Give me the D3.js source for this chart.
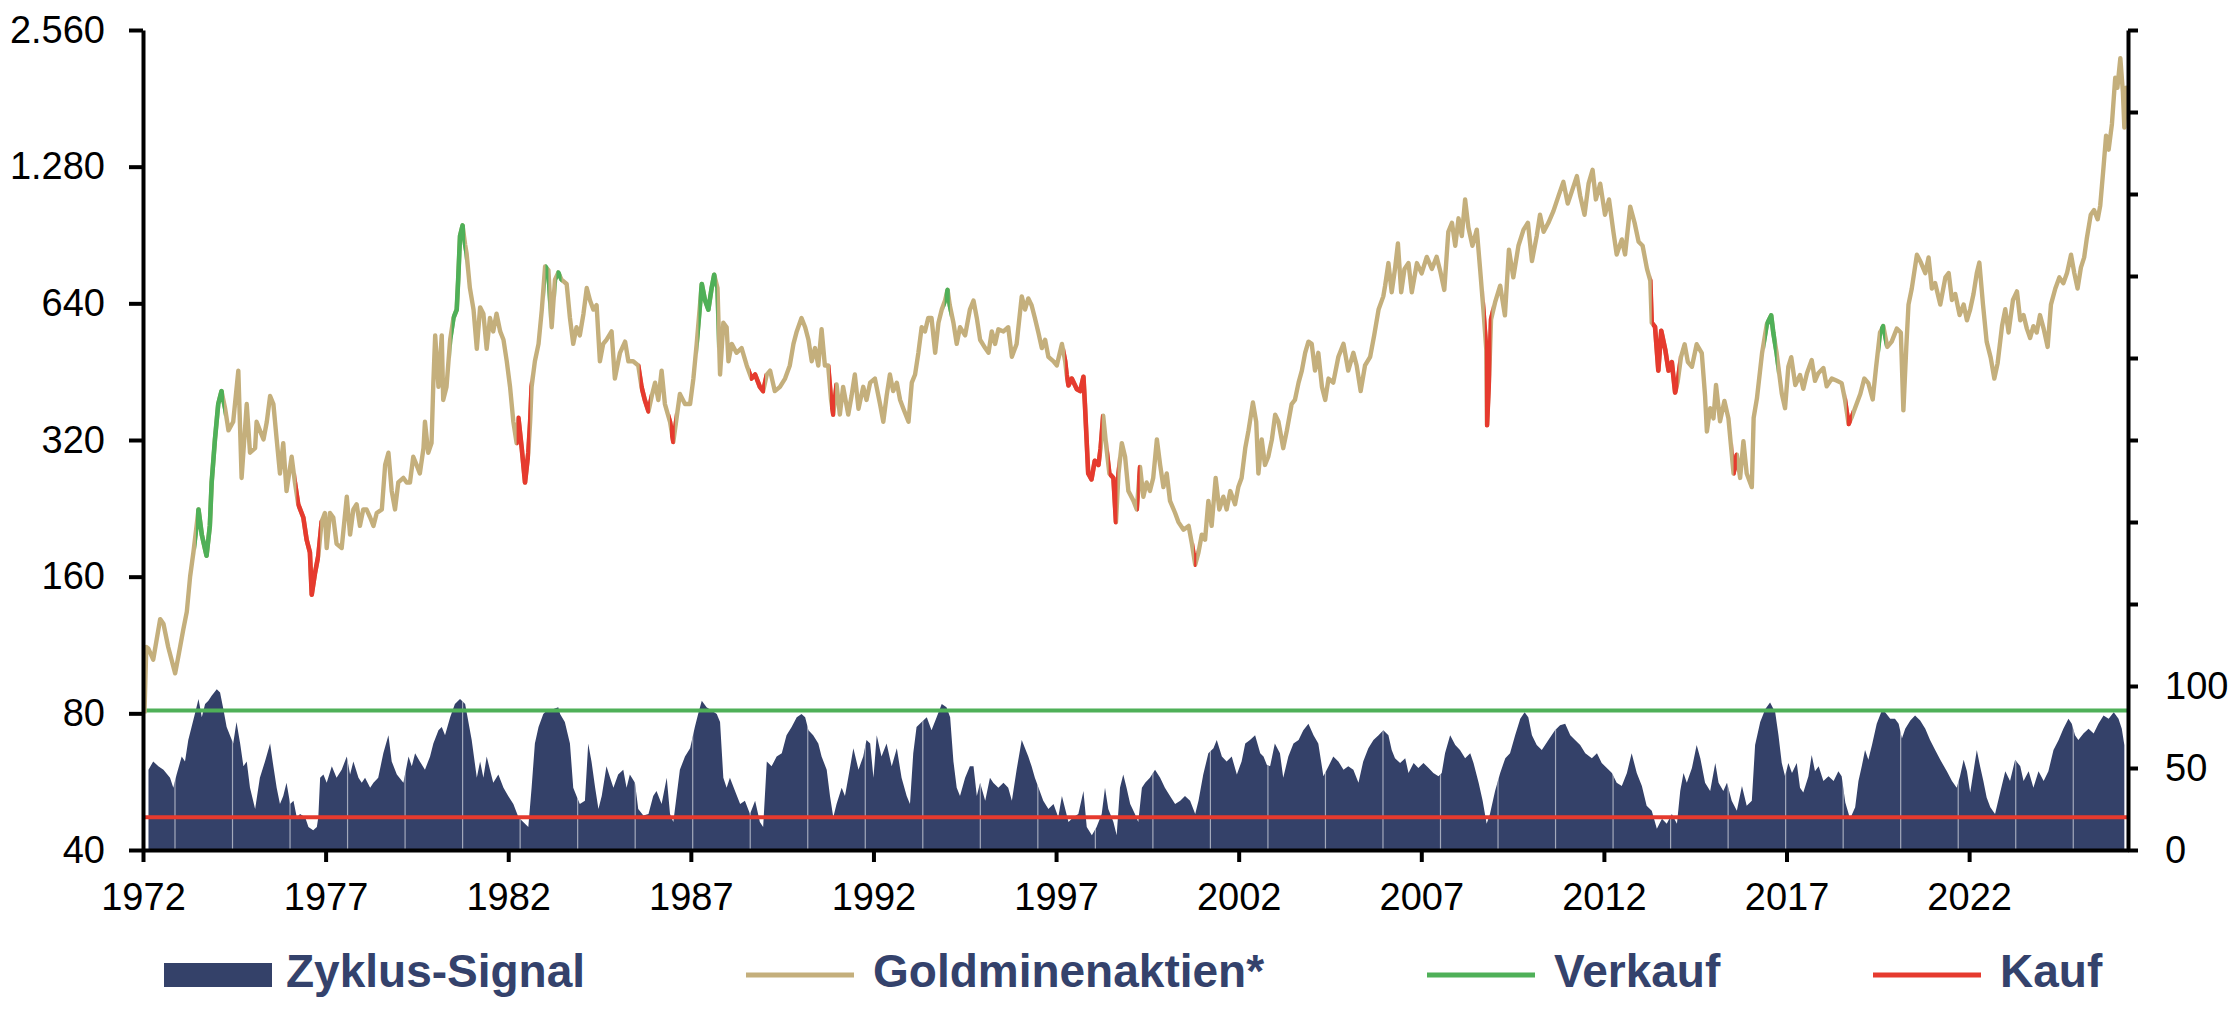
<!DOCTYPE html>
<html lang="de">
<head>
<meta charset="utf-8">
<script src="https://cdn.jsdelivr.net/npm/d3@7"></script>
<style>
  html, body { margin: 0; padding: 0; background: #fff; }
  svg { display: block; font-family: "Liberation Sans", Arial, Helvetica, sans-serif; }
  .axis path, .axis line { stroke: #000; stroke-width: 4; }
  .axis text { font-size: 38px; fill: #000; font-family: "Liberation Sans", Arial, sans-serif; }
  .legend text { font-size: 46px; font-weight: bold; fill: #34426c; }
</style>
</head>
<body>
<svg id="chart" width="2238" height="1018"></svg>
<script>
// Goldminenaktien* (log scale, left axis): [decimal year, index]
const goldminen = [
  [1972.04,80],[1972.09,112],[1972.15,111],[1972.28,105],[1972.47,129],[1972.56,126],[1972.69,112],[1972.88,98],[1972.97,107],
  [1973.10,122],[1973.20,134],[1973.29,160],[1973.38,181],[1973.52,225],[1973.61,198],[1973.74,178],[1973.83,207],[1973.88,258],[1973.97,321],
  [1974.06,384],[1974.15,410],[1974.25,375],[1974.34,336],[1974.47,351],[1974.61,455],[1974.70,264],[1974.84,384],[1974.93,300],
  [1975.07,307],[1975.11,351],[1975.20,336],[1975.30,321],[1975.39,351],[1975.48,400],[1975.57,384],[1975.66,321],[1975.75,270],[1975.84,315],[1975.93,247],
  [1976.07,294],[1976.16,258],[1976.25,231],[1976.39,216],[1976.48,193],[1976.57,181],[1976.62,146],[1976.71,163],[1976.80,178],[1976.89,211],[1976.98,221],
  [1977.03,185],[1977.12,221],[1977.21,216],[1977.30,189],[1977.44,185],[1977.58,240],[1977.67,198],[1977.76,225],[1977.85,231],[1977.94,207],
  [1978.03,225],[1978.12,225],[1978.22,216],[1978.31,207],[1978.40,221],[1978.54,225],[1978.63,282],[1978.72,300],[1978.81,247],[1978.90,225],[1978.99,258],
  [1979.13,264],[1979.22,258],[1979.31,258],[1979.40,294],[1979.49,282],[1979.58,270],[1979.68,307],[1979.72,351],[1979.81,300],[1979.90,315],[1979.95,428],
  [1980.00,544],[1980.09,419],[1980.18,544],[1980.22,392],[1980.31,419],[1980.41,532],[1980.50,594],[1980.59,620],[1980.63,722],[1980.68,900],[1980.75,950],[1980.82,862],[1980.86,825],[1980.95,692],
  [1981.05,620],[1981.14,508],[1981.23,627],[1981.32,607],[1981.41,508],[1981.50,594],[1981.59,555],[1981.68,607],[1981.78,555],[1981.87,532],[1981.96,477],
  [1982.05,419],[1982.14,351],[1982.23,315],[1982.28,358],[1982.37,307],[1982.46,258],[1982.55,300],[1982.60,351],[1982.64,419],[1982.73,477],[1982.83,521],[1982.92,620],
  [1983.01,772],[1983.10,757],[1983.19,567],[1983.28,722],[1983.37,748],[1983.46,722],[1983.60,706],[1983.69,594],[1983.78,521],[1983.87,567],[1983.96,544],
  [1984.06,607],[1984.15,692],[1984.24,649],[1984.33,620],[1984.42,634],[1984.51,477],[1984.60,521],[1984.69,532],[1984.83,555],[1984.92,437],
  [1985.06,498],[1985.20,527],[1985.29,477],[1985.42,477],[1985.56,467],[1985.65,419],[1985.74,392],[1985.84,370],[1985.93,400],
  [1986.02,428],[1986.11,392],[1986.20,455],[1986.29,384],[1986.43,351],[1986.52,317],[1986.61,358],[1986.70,404],[1986.84,384],[1986.98,384],
  [1987.07,437],[1987.16,521],[1987.25,634],[1987.30,706],[1987.39,649],[1987.48,620],[1987.57,692],[1987.64,740],[1987.73,692],[1987.80,446],[1987.89,580],[1987.98,567],
  [1988.03,477],[1988.12,521],[1988.25,498],[1988.39,510],[1988.53,467],[1988.66,437],[1988.76,446],[1988.89,419],[1988.98,410],
  [1989.08,446],[1989.17,455],[1989.30,410],[1989.44,419],[1989.58,437],[1989.71,467],[1989.81,521],[1989.90,555],
  [1990.03,594],[1990.13,567],[1990.22,532],[1990.31,477],[1990.40,510],[1990.49,467],[1990.58,561],[1990.67,467],[1990.76,467],[1990.84,392],[1990.90,364],[1990.99,424],
  [1991.08,364],[1991.17,419],[1991.31,364],[1991.40,400],[1991.49,446],[1991.59,375],[1991.72,419],[1991.81,392],[1991.91,428],
  [1992.04,437],[1992.18,384],[1992.27,351],[1992.36,400],[1992.45,446],[1992.54,410],[1992.64,428],[1992.73,392],[1992.82,375],[1992.96,351],
  [1993.05,428],[1993.14,446],[1993.23,498],[1993.32,567],[1993.41,555],[1993.50,594],[1993.59,594],[1993.69,498],[1993.78,580],[1993.87,620],[1993.96,649],
  [1994.03,685],[1994.09,634],[1994.19,580],[1994.28,521],[1994.37,567],[1994.51,544],[1994.64,620],[1994.74,649],[1994.83,594],[1994.92,532],
  [1995.06,510],[1995.15,498],[1995.24,555],[1995.33,521],[1995.42,561],[1995.56,555],[1995.69,567],[1995.79,488],[1995.92,521],
  [1996.06,663],[1996.15,620],[1996.24,656],[1996.33,634],[1996.42,594],[1996.52,550],[1996.61,510],[1996.70,532],[1996.79,488],[1996.93,477],
  [1997.02,467],[1997.16,521],[1997.25,477],[1997.29,446],[1997.34,422],[1997.43,437],[1997.57,414],[1997.66,410],[1997.75,441],[1997.79,384],[1997.88,270],[1997.97,262],
  [1998.06,288],[1998.16,282],[1998.22,307],[1998.29,362],[1998.38,307],[1998.46,270],[1998.57,264],[1998.64,211],[1998.71,270],[1998.80,315],[1998.89,294],[1998.98,247],
  [1999.12,235],[1999.21,225],[1999.30,279],[1999.39,240],[1999.48,258],[1999.57,247],[1999.66,264],[1999.76,321],[1999.85,282],[1999.94,252],
  [2000.03,270],[2000.12,235],[2000.26,221],[2000.35,211],[2000.49,203],[2000.63,207],[2000.72,189],[2000.81,170],[2000.90,181],[2000.99,198],
  [2001.08,193],[2001.17,235],[2001.26,207],[2001.37,264],[2001.47,225],[2001.58,240],[2001.67,225],[2001.77,247],[2001.90,231],[2001.99,252],
  [2002.08,264],[2002.18,307],[2002.27,336],[2002.39,387],[2002.48,351],[2002.54,270],[2002.63,321],[2002.72,282],[2002.81,294],[2002.91,321],
  [2003.00,364],[2003.09,351],[2003.22,307],[2003.32,336],[2003.45,384],[2003.54,392],[2003.64,428],[2003.73,455],[2003.82,498],[2003.91,527],
  [2004.00,521],[2004.09,455],[2004.18,498],[2004.28,419],[2004.37,392],[2004.46,437],[2004.59,428],[2004.73,488],[2004.87,521],
  [2005.00,455],[2005.14,498],[2005.23,467],[2005.34,410],[2005.46,467],[2005.60,488],[2005.71,544],[2005.83,620],[2005.96,663],
  [2006.01,700],[2006.10,785],[2006.19,677],[2006.28,762],[2006.36,867],[2006.45,677],[2006.54,762],[2006.65,785],[2006.74,677],[2006.88,785],
  [2007.01,745],[2007.15,810],[2007.29,762],[2007.42,810],[2007.52,753],[2007.63,685],[2007.74,920],[2007.84,963],[2007.93,857],
  [2008.02,985],[2008.11,900],[2008.20,1084],[2008.29,940],[2008.40,857],[2008.52,930],[2008.61,762],[2008.70,620],[2008.78,506],[2008.80,345],[2008.86,445],[2008.91,590],
  [2009.02,643],[2009.16,700],[2009.29,602],[2009.40,840],[2009.52,730],[2009.66,857],[2009.80,930],[2009.92,963],
  [2010.03,793],[2010.16,900],[2010.25,1003],[2010.35,920],[2010.48,963],[2010.62,1023],[2010.76,1105],[2010.89,1185],
  [2011.01,1062],[2011.12,1128],[2011.26,1220],[2011.35,1105],[2011.47,1003],[2011.58,1174],[2011.69,1260],[2011.78,1084],[2011.90,1174],
  [2012.03,1003],[2012.14,1084],[2012.26,920],[2012.35,820],[2012.49,885],[2012.58,820],[2012.72,1045],[2012.84,963],[2012.95,875],
  [2013.06,857],[2013.18,762],[2013.27,718],[2013.31,580],[2013.40,568],[2013.49,455],[2013.57,557],[2013.68,506],[2013.77,455],[2013.86,475],[2013.95,407],
  [2014.02,430],[2014.11,487],[2014.21,520],[2014.30,475],[2014.41,464],[2014.54,520],[2014.68,497],[2014.77,400],[2014.82,334],[2014.91,376],
  [2015.00,357],[2015.07,423],[2015.18,352],[2015.30,390],[2015.41,357],[2015.55,270],[2015.64,297],[2015.73,264],[2015.82,318],[2015.91,270],
  [2016.05,252],[2016.10,358],[2016.19,395],[2016.33,497],[2016.46,575],[2016.58,602],[2016.64,550],[2016.73,497],[2016.87,405],[2016.96,376],
  [2017.05,464],[2017.13,487],[2017.24,423],[2017.37,445],[2017.46,415],[2017.56,449],[2017.69,480],[2017.78,432],[2017.87,449],
  [2018.01,461],[2018.10,420],[2018.24,437],[2018.38,432],[2018.51,427],[2018.60,393],[2018.70,347],[2018.79,360],[2018.88,377],
  [2019.02,404],[2019.13,437],[2019.24,427],[2019.36,393],[2019.45,461],[2019.56,552],[2019.65,570],[2019.76,513],[2019.88,527],
  [2020.02,563],[2020.13,552],[2020.20,372],[2020.28,513],[2020.34,636],[2020.43,690],[2020.57,819],[2020.68,787],[2020.80,746],[2020.89,808],[2020.98,690],
  [2021.07,709],[2021.21,636],[2021.35,730],[2021.44,746],[2021.53,651],[2021.62,671],[2021.74,603],[2021.85,636],[2021.94,587],
  [2022.03,621],[2022.12,671],[2022.21,746],[2022.28,787],[2022.38,636],[2022.48,527],[2022.59,486],[2022.69,437],[2022.78,472],[2022.90,570],[2022.99,621],
  [2023.08,552],[2023.20,651],[2023.31,680],[2023.40,587],[2023.49,603],[2023.58,563],[2023.67,537],[2023.76,570],[2023.85,552],[2023.94,603],
  [2024.04,563],[2024.15,513],[2024.24,636],[2024.36,690],[2024.47,730],[2024.58,709],[2024.68,746],[2024.79,819],[2024.88,746],[2024.97,690],
  [2025.06,767],[2025.15,808],[2025.22,887],[2025.33,1003],[2025.42,1027],[2025.52,980],[2025.59,1051],[2025.68,1277],[2025.75,1498],[2025.82,1395],[2025.91,1590],
  [2026.00,2009],[2026.06,1910],[2026.14,2220],[2026.21,1870],[2026.25,1560],[2026.30,1910],[2026.34,1870]
];

// Zyklus-Signal (right axis, 0-100): [decimal year, value]
const zyklus = [
  [1972.15,49],[1972.28,54],[1972.42,51],[1972.56,49],[1972.74,44],[1972.83,38],[1972.92,46],[1973.06,57],[1973.15,54],[1973.24,67],[1973.33,75],[1973.42,83],[1973.52,92],[1973.61,81],[1973.70,89],[1973.79,91],[1973.88,94],
  [1974.02,98],[1974.11,96],[1974.20,86],[1974.29,75],[1974.38,70],[1974.47,65],[1974.56,78],[1974.66,65],[1974.75,51],[1974.84,54],[1974.93,38],
  [1975.07,25],[1975.20,44],[1975.34,54],[1975.48,65],[1975.57,51],[1975.66,38],[1975.75,28],[1975.84,33],[1975.93,41],
  [1976.03,28],[1976.12,30],[1976.21,20],[1976.30,22],[1976.44,20],[1976.53,14],[1976.66,12],[1976.76,14],[1976.80,20],[1976.85,44],[1976.94,46],
  [1977.03,41],[1977.17,51],[1977.30,44],[1977.44,49],[1977.58,57],[1977.67,46],[1977.76,54],[1977.90,44],[1977.99,41],
  [1978.08,44],[1978.22,38],[1978.31,41],[1978.44,44],[1978.58,59],[1978.72,70],[1978.81,54],[1978.95,46],
  [1979.13,41],[1979.27,57],[1979.36,51],[1979.45,59],[1979.58,54],[1979.72,49],[1979.86,57],[1979.95,65],
  [1980.09,73],[1980.18,75],[1980.27,70],[1980.41,81],[1980.54,89],[1980.68,92],[1980.82,89],[1980.91,78],
  [1981.00,67],[1981.14,44],[1981.23,54],[1981.32,44],[1981.41,57],[1981.50,49],[1981.59,41],[1981.73,46],[1981.87,38],
  [1982.00,33],[1982.14,28],[1982.28,20],[1982.41,17],[1982.55,14],[1982.64,38],[1982.73,65],[1982.83,75],[1982.96,83],
  [1983.10,86],[1983.24,86],[1983.37,87],[1983.42,83],[1983.55,78],[1983.69,65],[1983.78,38],[1983.87,33],[1983.96,28],
  [1984.10,30],[1984.19,65],[1984.28,54],[1984.38,38],[1984.47,25],[1984.56,33],[1984.69,51],[1984.79,44],[1984.88,38],
  [1985.01,46],[1985.15,49],[1985.24,38],[1985.33,46],[1985.47,41],[1985.56,25],[1985.70,21],[1985.84,22],[1985.97,33],
  [1986.06,36],[1986.20,28],[1986.34,44],[1986.43,22],[1986.52,17],[1986.61,33],[1986.70,49],[1986.84,57],[1986.98,62],
  [1987.11,75],[1987.20,83],[1987.30,91],[1987.43,87],[1987.57,85],[1987.71,83],[1987.80,78],[1987.89,44],[1987.98,38],
  [1988.07,44],[1988.21,36],[1988.35,28],[1988.48,30],[1988.62,22],[1988.76,30],[1988.89,17],[1988.98,14],
  [1989.08,54],[1989.21,51],[1989.35,57],[1989.49,59],[1989.62,70],[1989.76,75],[1989.90,81],
  [1990.03,83],[1990.13,81],[1990.22,73],[1990.35,70],[1990.49,65],[1990.58,57],[1990.72,49],[1990.81,33],[1990.90,20],[1990.99,28],
  [1991.13,38],[1991.22,33],[1991.31,44],[1991.45,62],[1991.59,49],[1991.72,57],[1991.81,67],[1991.91,65],
  [1992.00,44],[1992.09,70],[1992.22,57],[1992.36,65],[1992.50,51],[1992.64,62],[1992.77,44],[1992.91,33],
  [1993.00,28],[1993.09,59],[1993.18,75],[1993.32,78],[1993.46,81],[1993.59,73],[1993.73,81],[1993.87,89],
  [1994.00,87],[1994.10,81],[1994.19,54],[1994.28,38],[1994.37,33],[1994.51,44],[1994.64,51],[1994.74,51],[1994.83,33],[1994.92,41],
  [1995.06,30],[1995.19,44],[1995.28,41],[1995.42,38],[1995.56,41],[1995.69,38],[1995.79,30],[1995.92,49],
  [1996.06,67],[1996.15,62],[1996.24,57],[1996.33,51],[1996.42,44],[1996.52,38],[1996.65,30],[1996.79,25],[1996.93,28],
  [1997.06,20],[1997.16,33],[1997.25,25],[1997.34,17],[1997.47,20],[1997.61,22],[1997.75,36],[1997.84,14],[1997.98,9],
  [1998.11,14],[1998.25,22],[1998.34,38],[1998.43,25],[1998.57,17],[1998.66,9],[1998.75,38],[1998.84,46],[1998.93,38],
  [1999.03,28],[1999.16,22],[1999.25,17],[1999.35,38],[1999.44,41],[1999.57,44],[1999.71,49],[1999.85,44],[1999.98,38],
  [2000.12,33],[2000.26,28],[2000.40,30],[2000.53,33],[2000.67,30],[2000.81,22],[2000.90,30],
  [2001.03,46],[2001.17,59],[2001.31,62],[2001.40,67],[2001.54,57],[2001.67,54],[2001.81,57],[2001.95,46],
  [2002.08,54],[2002.18,65],[2002.31,67],[2002.45,70],[2002.59,59],[2002.68,57],[2002.77,52],[2002.86,51],[2002.99,65],
  [2003.13,59],[2003.22,44],[2003.36,57],[2003.50,65],[2003.64,67],[2003.77,73],[2003.91,77],
  [2004.05,70],[2004.18,65],[2004.32,45],[2004.46,51],[2004.59,57],[2004.73,54],[2004.87,49],
  [2005.00,51],[2005.14,49],[2005.28,41],[2005.41,54],[2005.55,62],[2005.69,67],[2005.83,70],[2005.96,73],
  [2006.10,70],[2006.19,61],[2006.28,56],[2006.42,53],[2006.56,56],[2006.65,47],[2006.79,53],[2006.92,50],
  [2007.06,53],[2007.20,50],[2007.33,47],[2007.47,45],[2007.56,47],[2007.65,59],[2007.79,70],[2007.93,64],
  [2008.06,61],[2008.20,56],[2008.34,59],[2008.43,53],[2008.57,41],[2008.68,30],[2008.79,16],[2008.88,22],
  [2009.02,36],[2009.16,47],[2009.30,56],[2009.43,59],[2009.57,70],[2009.71,80],[2009.83,84],[2009.93,81],
  [2010.03,70],[2010.16,64],[2010.30,61],[2010.48,67],[2010.66,73],[2010.80,76],[2010.94,77],
  [2011.08,70],[2011.21,67],[2011.35,64],[2011.49,59],[2011.67,56],[2011.81,59],[2011.94,53],
  [2012.08,50],[2012.22,47],[2012.35,41],[2012.49,39],[2012.63,47],[2012.76,59],[2012.90,47],
  [2013.04,39],[2013.17,27],[2013.31,24],[2013.45,13],[2013.59,19],[2013.72,16],[2013.86,22],
  [2014.00,16],[2014.09,36],[2014.18,47],[2014.27,41],[2014.41,50],[2014.54,64],[2014.64,56],[2014.77,41],[2014.91,36],
  [2015.05,53],[2015.14,41],[2015.27,36],[2015.37,41],[2015.50,30],[2015.64,24],[2015.78,39],[2015.91,27],
  [2016.05,30],[2016.14,64],[2016.28,78],[2016.42,86],[2016.55,90],[2016.69,84],[2016.78,70],[2016.87,53],[2016.96,45],
  [2017.05,53],[2017.15,47],[2017.28,53],[2017.37,38],[2017.46,35],[2017.60,45],[2017.69,58],[2017.78,48],[2017.88,51],
  [2018.01,42],[2018.15,45],[2018.29,42],[2018.42,48],[2018.51,45],[2018.61,29],[2018.74,19],[2018.88,26],[2018.97,42],
  [2019.06,51],[2019.15,61],[2019.24,55],[2019.34,64],[2019.47,77],[2019.61,85],[2019.70,84],[2019.84,80],[2019.97,80],
  [2020.07,77],[2020.16,68],[2020.25,74],[2020.39,79],[2020.52,82],[2020.66,79],[2020.80,74],[2020.93,67],
  [2021.07,61],[2021.21,55],[2021.39,48],[2021.53,42],[2021.66,38],[2021.75,45],[2021.85,55],[2021.94,48],
  [2022.03,35],[2022.12,48],[2022.21,61],[2022.30,51],[2022.39,42],[2022.48,32],[2022.58,26],[2022.71,22],[2022.85,35],[2022.99,48],
  [2023.12,42],[2023.26,55],[2023.40,51],[2023.49,42],[2023.63,48],[2023.76,38],[2023.90,48],
  [2024.04,42],[2024.17,48],[2024.31,61],[2024.45,67],[2024.58,74],[2024.72,80],[2024.81,77],[2024.90,70],[2024.99,67],
  [2025.13,71],[2025.27,74],[2025.41,71],[2025.54,77],[2025.68,82],[2025.82,80],[2025.96,84],
  [2026.09,80],[2026.18,74],[2026.25,64]
];

// signal phases that colour the index line: [from, to]
const verkaufPhasen = [
  [1973.45,1974.22],[1980.45,1980.82],[1983.02,1983.10],[1983.32,1983.46],
  [1987.21,1987.71],[1993.95,1994.09],[2016.42,2016.73],[2019.56,2019.70]
];
const kaufPhasen = [
  [1976.20,1976.85],[1982.23,1982.60],[1985.60,1985.88],[1986.43,1986.56],
  [1988.62,1989.03],[1990.81,1990.95],[1997.25,1998.25],[1998.44,1998.68],
  [1999.22,1999.29],[2000.78,2000.84],[2008.74,2008.92],[2013.31,2014.04],
  [2015.55,2015.64],[2018.65,2018.79]
];

const verkaufSchwelle = 85;
const kaufSchwelle = 20;

const jahrTicks = [1972, 1977, 1982, 1987, 1992, 1997, 2002, 2007, 2012, 2017, 2022];
const linksTicks = [40, 80, 160, 320, 640, 1280, 2560];
const rechtsTicks = [0, 50, 100, 150, 200, 250, 300, 350, 400, 450, 500];
const rechtsLabels = [0, 50, 100];

const legende = [
  { label: "Zyklus-Signal", typ: "bar", farbe: "#344169" },
  { label: "Goldminenaktien*", typ: "line", farbe: "#c4af7c" },
  { label: "Verkauf", typ: "line", farbe: "#4fb058" },
  { label: "Kauf", typ: "line", farbe: "#e63a2e" }
];

const svg = d3.select("#chart");
const plot = { left: 143, right: 2128, top: 30, bottom: 850 };

const de = d3.formatLocale({ decimal: ",", thousands: ".", grouping: [3], currency: ["", " €"] });

const x = d3.scaleLinear().domain([1972, 2026.35]).range([plot.left, plot.right]);
const yL = d3.scaleLog().base(2).domain([40, 2560]).range([plot.bottom, plot.top]);
const yR = d3.scaleLinear().domain([0, 500]).range([plot.bottom, plot.top]);

const defs = svg.append("defs");

// signal area
const area = d3.area()
  .x(d => x(d[0]))
  .y0(yR(0))
  .y1(d => yR(d[1]));

defs.append("clipPath").attr("id", "clipSignal")
  .append("path").attr("d", area(zyklus));

svg.append("path")
  .attr("d", area(zyklus))
  .attr("fill", "#344169");

// faint column gaps of the original bar rendering
const luecken = d3.range(0, 34).map(i => 1972.876 + i * 1.575);
svg.append("g")
  .attr("clip-path", "url(#clipSignal)")
  .selectAll("line")
  .data(luecken)
  .join("line")
  .attr("x1", d => x(d)).attr("x2", d => x(d))
  .attr("y1", plot.top).attr("y2", plot.bottom)
  .attr("stroke", "#ffffff")
  .attr("stroke-opacity", 0.55)
  .attr("stroke-width", 1.2);

// threshold lines
svg.append("line")
  .attr("x1", plot.left).attr("x2", plot.right)
  .attr("y1", yR(verkaufSchwelle)).attr("y2", yR(verkaufSchwelle))
  .attr("stroke", "#4fb058").attr("stroke-width", 4);
svg.append("line")
  .attr("x1", plot.left).attr("x2", plot.right)
  .attr("y1", yR(kaufSchwelle)).attr("y2", yR(kaufSchwelle))
  .attr("stroke", "#e63a2e").attr("stroke-width", 4);

// index line
const line = d3.line()
  .x(d => x(d[0]))
  .y(d => yL(d[1]));

svg.append("path")
  .attr("d", line(goldminen))
  .attr("fill", "none")
  .attr("stroke", "#c4af7c")
  .attr("stroke-width", 4.4)
  .attr("stroke-linejoin", "round");

function phaseClip(id, phasen) {
  defs.append("clipPath").attr("id", id)
    .selectAll("rect")
    .data(phasen)
    .join("rect")
    .attr("x", d => x(d[0]))
    .attr("width", d => x(d[1]) - x(d[0]))
    .attr("y", 0)
    .attr("height", 1018);
}
phaseClip("clipVerkauf", verkaufPhasen);
phaseClip("clipKauf", kaufPhasen);

svg.append("path")
  .attr("d", line(goldminen))
  .attr("clip-path", "url(#clipVerkauf)")
  .attr("fill", "none")
  .attr("stroke", "#4fb058")
  .attr("stroke-width", 4.6)
  .attr("stroke-linejoin", "round");

svg.append("path")
  .attr("d", line(goldminen))
  .attr("clip-path", "url(#clipKauf)")
  .attr("fill", "none")
  .attr("stroke", "#e63a2e")
  .attr("stroke-width", 4.6)
  .attr("stroke-linejoin", "round");

// axes
svg.append("g")
  .attr("class", "axis")
  .attr("transform", `translate(${plot.left},0)`)
  .call(d3.axisLeft(yL)
    .tickValues(linksTicks)
    .tickFormat(de.format(","))
    .tickSize(14)
    .tickSizeOuter(0)
    .tickPadding(24));

svg.append("g")
  .attr("class", "axis")
  .attr("transform", `translate(${plot.right},0)`)
  .call(d3.axisRight(yR)
    .tickValues(rechtsTicks)
    .tickFormat(d => rechtsLabels.includes(d) ? d : "")
    .tickSize(10)
    .tickSizeOuter(0)
    .tickPadding(27));

svg.append("g")
  .attr("class", "axis")
  .attr("transform", `translate(0,${plot.bottom})`)
  .call(d3.axisBottom(x)
    .tickValues(jahrTicks)
    .tickFormat(d3.format("d"))
    .tickSize(12)
    .tickSizeOuter(0)
    .tickPadding(21));

// legend
const legX = [164, 746, 1427, 1873];
const leg = svg.append("g").attr("class", "legend");
legende.forEach((d, i) => {
  const g = leg.append("g").attr("transform", `translate(${legX[i]},975)`);
  if (d.typ === "bar") {
    g.append("rect").attr("x", 0).attr("y", -12).attr("width", 108).attr("height", 24).attr("fill", d.farbe);
  } else {
    g.append("line").attr("x1", 0).attr("x2", 108).attr("y1", 0).attr("y2", 0)
      .attr("stroke", d.farbe).attr("stroke-width", 5);
  }
  g.append("text")
    .attr("x", d.typ === "bar" ? 122 : 127)
    .attr("y", 12)
    .text(d.label);
});
</script>
</body>
</html>
